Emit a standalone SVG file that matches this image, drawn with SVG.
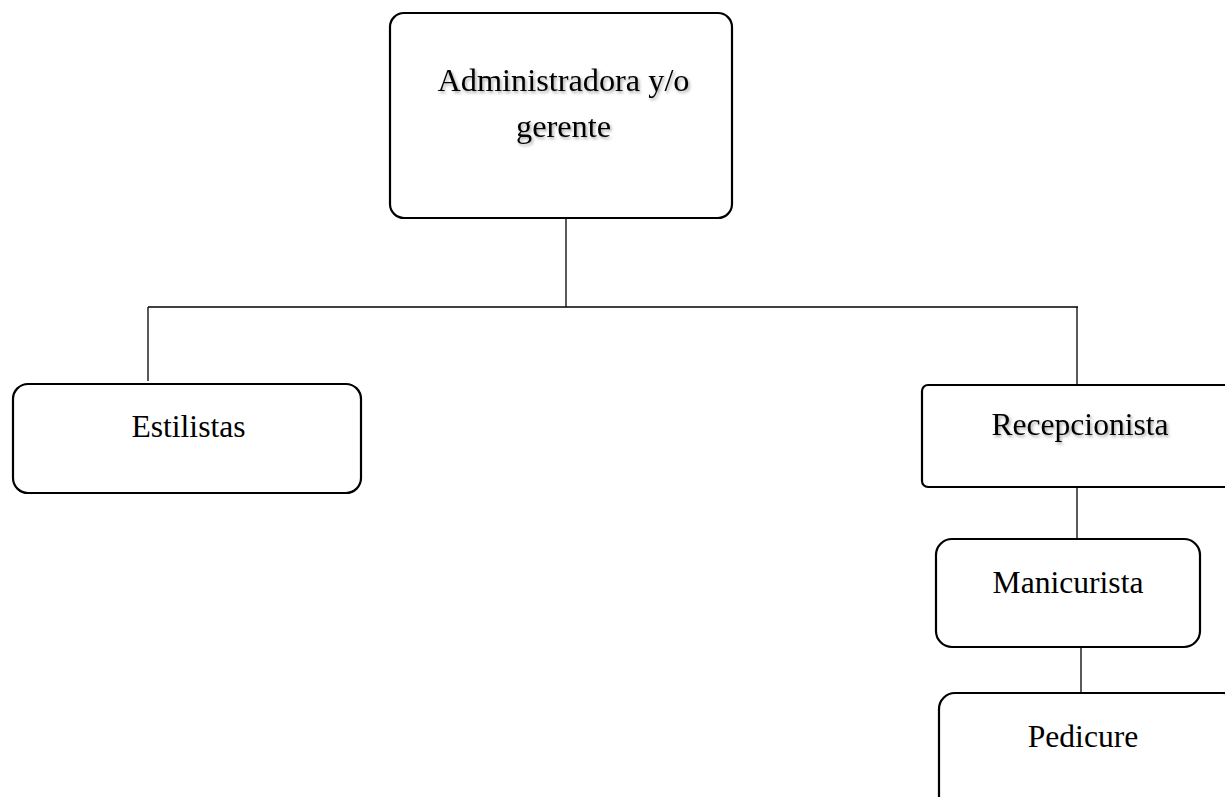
<svg xmlns="http://www.w3.org/2000/svg" width="1225" height="797" viewBox="0 0 1225 797">
<style>
.box{fill:#fff;stroke:#000;stroke-width:2.2}
.lbl{font-family:"Liberation Serif","Times New Roman",serif;font-size:31.6px;fill:#000;text-anchor:middle}
.sh{filter:url(#shadow)}
.con{stroke:#000;stroke-width:1.3;fill:none}
</style>
<defs>
<filter id="shadow" x="-10%" y="-30%" width="120%" height="160%">
<feDropShadow dx="1.5" dy="2" stdDeviation="1.5" flood-color="#000" flood-opacity="0.35"/>
</filter>
</defs>
<rect width="1225" height="797" fill="#fff"/>
<g id="connectors">
<line class="con" x1="566" y1="218" x2="566" y2="307"/>
<line class="con" x1="148" y1="307" x2="1078" y2="307"/>
<line class="con" x1="148" y1="307" x2="148" y2="381"/>
<line class="con" x1="1077" y1="307" x2="1077" y2="384"/>
<line class="con" x1="1077" y1="487" x2="1077" y2="539"/>
<line class="con" x1="1081" y1="647" x2="1081" y2="693"/>
</g>
<g id="node-admin">
<rect class="box" x="390" y="13" width="342" height="205" rx="14"/>
<text class="lbl sh" x="563.5" y="91" style="font-size:32.3px">Administradora y/o</text>
<text class="lbl sh" x="563.5" y="137" style="font-size:32.3px">gerente</text>
</g>
<g id="node-estilistas">
<rect class="box" x="13" y="384" width="348" height="109" rx="15"/>
<text class="lbl" x="188.5" y="437">Estilistas</text>
</g>
<g id="node-recepcionista">
<rect class="box" x="922" y="385" width="320" height="102" rx="6"/>
<text class="lbl sh" x="1080" y="435">Recepcionista</text>
</g>
<g id="node-manicurista">
<rect class="box" x="936" y="539" width="264" height="108" rx="16"/>
<text class="lbl" x="1068" y="593">Manicurista</text>
</g>
<g id="node-pedicure">
<rect class="box" x="939" y="693" width="300" height="120" rx="16"/>
<text class="lbl" x="1083" y="747">Pedicure</text>
</g>
</svg>
